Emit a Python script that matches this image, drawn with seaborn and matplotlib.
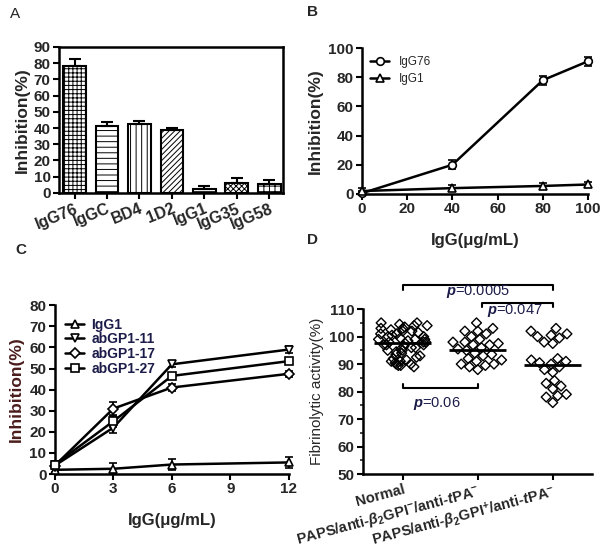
import numpy as np
import pandas as pd
import matplotlib
matplotlib.use("Agg")
import matplotlib.pyplot as plt
from matplotlib.ticker import MultipleLocator
import seaborn as sns

sns.set_style("ticks")
plt.rcParams['font.family'] = ['Liberation Sans', 'DejaVu Sans']
plt.rcParams['mathtext.fontset'] = 'custom'
plt.rcParams['mathtext.rm'] = 'Liberation Sans:bold'
plt.rcParams['mathtext.it'] = 'Liberation Sans:bold:italic'
plt.rcParams['mathtext.bf'] = 'Liberation Sans:bold'
plt.rcParams['hatch.linewidth'] = 0.7
np.random.seed(7)  # only for the horizontal jitter of the Normal group

# Panel A data
a_names = ['IgG76', 'IgGC', 'BD4', '1D2', 'IgG1', 'IgG35', 'IgG58']
a_vals = [78.5, 41.5, 42.5, 38.5, 2.2, 6.3, 5.5]
a_err = [3.8, 2.3, 1.8, 1.8, 2.2, 2.7, 2.3]
a_hatch = ['++++', '---', '|||', '//////', '---', 'xxxxxx', '+++']

# Panel B data
b_x = [0, 40, 80, 100]
b_igg76 = [0.5, 20, 78, 91]
b_igg76_err = [1.2, 3, 3, 3]
b_igg1 = [2, 4, 5.5, 6.5]
b_igg1_err = [2, 2, 2, 2]

# Panel C data
c_x = [0, 3, 6, 12]
c_igg1 = [2, 2.5, 4.5, 5.5]
c_igg1_err = [1, 2.5, 2.5, 2.5]
c_gp11 = [4, 22, 52, 59]
c_gp11_err = [1.5, 2.5, 1.5, 1.5]
c_gp17 = [4, 31, 41, 47.5]
c_gp17_err = [1.5, 3, 1.5, 1.5]
c_gp27 = [4.5, 25, 46.5, 53.5]
c_gp27_err = [1.5, 2.5, 1.5, 1.5]

# Panel D data
d_groups = ['Normal', 'PAPS/anti-$\\beta_2$GPI$^{-}$/anti-$\\it{t}$PA$^{-}$',
            'PAPS/anti-$\\beta_2$GPI$^{+}$/anti-$\\it{t}$PA$^{-}$']
d_normal = [105, 105, 104.5, 104, 104, 103.5, 103, 103, 102.5, 102, 102, 101.5,
            101, 101, 100.5, 100, 100, 99.5, 99, 99, 98.5, 98, 98, 97.5, 97,
            97, 96.5, 96, 96, 95.5, 95, 95, 94.5, 94, 93.5, 93, 92.5, 92, 91.5,
            91, 91, 90.5, 90, 90, 89.5, 89, 89.5, 98, 97, 99]
d_neg = [105, 103, 102, 102, 101, 100, 99, 98, 98, 97.5, 97, 97, 96, 95.5,
         95, 94, 93.5, 93, 92, 91.5, 91, 90, 90, 89.5, 89, 88]
d_pos = [103, 102, 101, 100.5, 100, 99.5, 98, 97.5, 92, 91.5, 91, 90.5, 90,
         89, 88, 87, 84, 83, 82, 81, 79, 78.5, 78, 76]
d_means = [97.5, 95.2, 89.7]

fig = plt.figure(figsize=(6.02, 5.59), dpi=100)
axA = fig.add_axes([0.098, 0.655, 0.372, 0.261])
axB = fig.add_axes([0.601, 0.653, 0.376, 0.261])
axC = fig.add_axes([0.091, 0.152, 0.389, 0.302])
axD = fig.add_axes([0.603, 0.152, 0.380, 0.295])

TICK = 11


def style_axes(ax, box=False):
    for s in ['left', 'bottom', 'top', 'right']:
        ax.spines[s].set_linewidth(1.8)
        ax.spines[s].set_color('black')
    if not box:
        ax.spines['top'].set_visible(False)
        ax.spines['right'].set_visible(False)
    ax.tick_params(width=1.5, length=4, color='black', labelsize=TICK, pad=2)
    for lab in ax.get_xticklabels() + ax.get_yticklabels():
        lab.set_fontweight('bold')


# ---- A: bar chart
dfa = pd.DataFrame({'name': a_names, 'val': a_vals})
sns.barplot(data=dfa, x='name', y='val', ax=axA, width=0.7, color='white')
for p, h in zip(axA.patches, a_hatch):
    p.set_hatch(h)
    p.set_facecolor('white')
    p.set_edgecolor('black')
    p.set_linewidth(1.5)
axA.errorbar(range(len(a_names)), a_vals, yerr=[np.zeros(7), a_err], fmt='none',
             ecolor='black', elinewidth=1.5, capsize=4, capthick=1.5)
axA.set_xlim(-0.48, 6.42)
axA.set_ylim(0, 90)
axA.yaxis.set_major_locator(MultipleLocator(10))
axA.set_xlabel('')
axA.set_ylabel('Inhibition(%)', fontsize=12.5, fontweight='bold', labelpad=3)
style_axes(axA, box=True)
axA.set_xticks(range(len(a_names)))
axA.set_xticklabels(a_names, rotation=22, ha='right', rotation_mode='anchor',
                    fontsize=11.5, fontweight='bold')

# ---- B: dose response
dfb = pd.DataFrame({'x': b_x, 'IgG76': b_igg76, 'IgG1': b_igg1})
sns.lineplot(data=dfb, x='x', y='IgG76', ax=axB, color='black', lw=1.8,
             marker='o', ms=5.5, mfc='white', mec='black', mew=1.2,
             label='IgG76', clip_on=False, zorder=4)
sns.lineplot(data=dfb, x='x', y='IgG1', ax=axB, color='black', lw=1.8,
             marker='^', ms=6, mfc='white', mec='black', mew=1.2,
             label='IgG1', clip_on=False, zorder=4)
axB.errorbar(b_x, b_igg76, yerr=b_igg76_err, fmt='none', ecolor='black',
             elinewidth=1.2, capsize=3, capthick=1.2, clip_on=False)
axB.errorbar(b_x, b_igg1, yerr=b_igg1_err, fmt='none', ecolor='black',
             elinewidth=1.2, capsize=3, capthick=1.2, clip_on=False)
axB.set_xlim(0, 100)
axB.set_ylim(0, 100)
axB.xaxis.set_major_locator(MultipleLocator(20))
axB.yaxis.set_major_locator(MultipleLocator(20))
axB.set_xlabel('IgG(μg/mL)', fontsize=12, fontweight='bold', labelpad=12)
axB.set_ylabel('Inhibition(%)', fontsize=12.5, fontweight='bold')
axB.legend(loc='upper left', frameon=False, fontsize=8.5, handlelength=1.6,
           borderaxespad=0.3, labelspacing=0.4)
style_axes(axB)

# ---- C: dose response, four antibodies
dfc = pd.DataFrame({'x': c_x, 'IgG1': c_igg1, 'abGP1-11': c_gp11,
                    'abGP1-17': c_gp17, 'abGP1-27': c_gp27})
c_series = [('IgG1', '^', c_igg1_err), ('abGP1-11', 'v', c_gp11_err),
            ('abGP1-17', 'D', c_gp17_err), ('abGP1-27', 's', c_gp27_err)]
for name, mk, err in c_series:
    sns.lineplot(data=dfc, x='x', y=name, ax=axC, color='black', lw=1.8,
                 marker=mk, ms=5 if mk == 'D' else 5.5, mfc='white',
                 mec='black', mew=1.2, label=name, clip_on=False, zorder=4)
    axC.errorbar(c_x, dfc[name], yerr=err, fmt='none', ecolor='black',
                 elinewidth=1.2, capsize=3, capthick=1.2, clip_on=False)
axC.set_xlim(0, 12)
axC.set_ylim(0, 80)
axC.xaxis.set_major_locator(MultipleLocator(3))
axC.yaxis.set_major_locator(MultipleLocator(10))
axC.set_xlabel('IgG(μg/mL)', fontsize=12, fontweight='bold', labelpad=12)
axC.set_ylabel('Inhibition(%)', fontsize=12.5, fontweight='bold', color='#4a1c1c')
legC = axC.legend(loc='upper left', frameon=False, fontsize=10,
                  handlelength=1.4, handletextpad=0.5, borderaxespad=0.0,
                  labelspacing=0.05, bbox_to_anchor=(0.02, 0.96))
for t in legC.get_texts():
    t.set_fontweight('bold')
    t.set_color('#1c1c4a')
style_axes(axC)

# ---- D: scatter of fibrinolytic activity
dfd = pd.DataFrame({
    'group': [d_groups[0]] * len(d_normal) + [d_groups[1]] * len(d_neg)
             + [d_groups[2]] * len(d_pos),
    'val': d_normal + d_neg + d_pos})
pt_kw = dict(x='group', y='val', ax=axD, order=d_groups, marker='D',
             color='white', edgecolor='black', linewidth=1.0)
sns.stripplot(data=dfd[dfd['group'] == d_groups[0]], jitter=0.34, size=5, **pt_kw)
sns.swarmplot(data=dfd[dfd['group'] != d_groups[0]], size=5, **pt_kw)
for coll in axD.collections:
    coll.set_facecolor('none')
    coll.set_edgecolor('black')
for i, m in enumerate(d_means):
    axD.hlines(m, i - 0.38, i + 0.38, color='black', lw=2, zorder=5)
axD.set_xlim(-0.53, 2.52)
axD.set_ylim(50, 110)
axD.yaxis.set_major_locator(MultipleLocator(10))
axD.yaxis.set_minor_locator(MultipleLocator(5))
axD.tick_params(which='minor', length=2.5, width=1.2)
axD.set_xlabel('')
axD.set_ylabel('Fibrinolytic activity(%)', fontsize=11)
style_axes(axD)
axD.set_xticks(range(3))
axD.set_xticklabels(d_groups, rotation=15, ha='right', rotation_mode='anchor',
                    fontsize=10.5, fontweight='bold')

pcol = '#1c1c4a'
axD.plot([0, 0, 2, 2], [117, 118.7, 118.7, 117], color='black', lw=1.5, clip_on=False)
axD.text(1.0, 116.3, '$\\it{p}$=0.0005', ha='center', va='center',
         fontsize=10.5, color=pcol, clip_on=False)
axD.plot([1.05, 1.05, 2, 2], [110.7, 112.2, 112.2, 110.7], color='black', lw=1.5, clip_on=False)
axD.text(1.5, 109.6, '$\\it{p}$=0.047', ha='center', va='center',
         fontsize=10.5, color=pcol, clip_on=False)
axD.plot([0, 0, 1, 1], [82.8, 81.3, 81.3, 82.8], color='black', lw=1.5)
axD.text(0.45, 75.8, '$\\it{p}$=0.06', ha='center', va='center',
         fontsize=10.5, color=pcol)

# panel letters
fig.text(0.017, 0.975, 'A', fontsize=11, va='center')
fig.text(0.51, 0.978, 'B', fontsize=11, va='center', fontweight='bold')
fig.text(0.025, 0.553, 'C', fontsize=11, va='center', fontweight='bold')
fig.text(0.51, 0.57, 'D', fontsize=11, va='center', fontweight='bold')

fig.savefig('out.png', dpi=100)
